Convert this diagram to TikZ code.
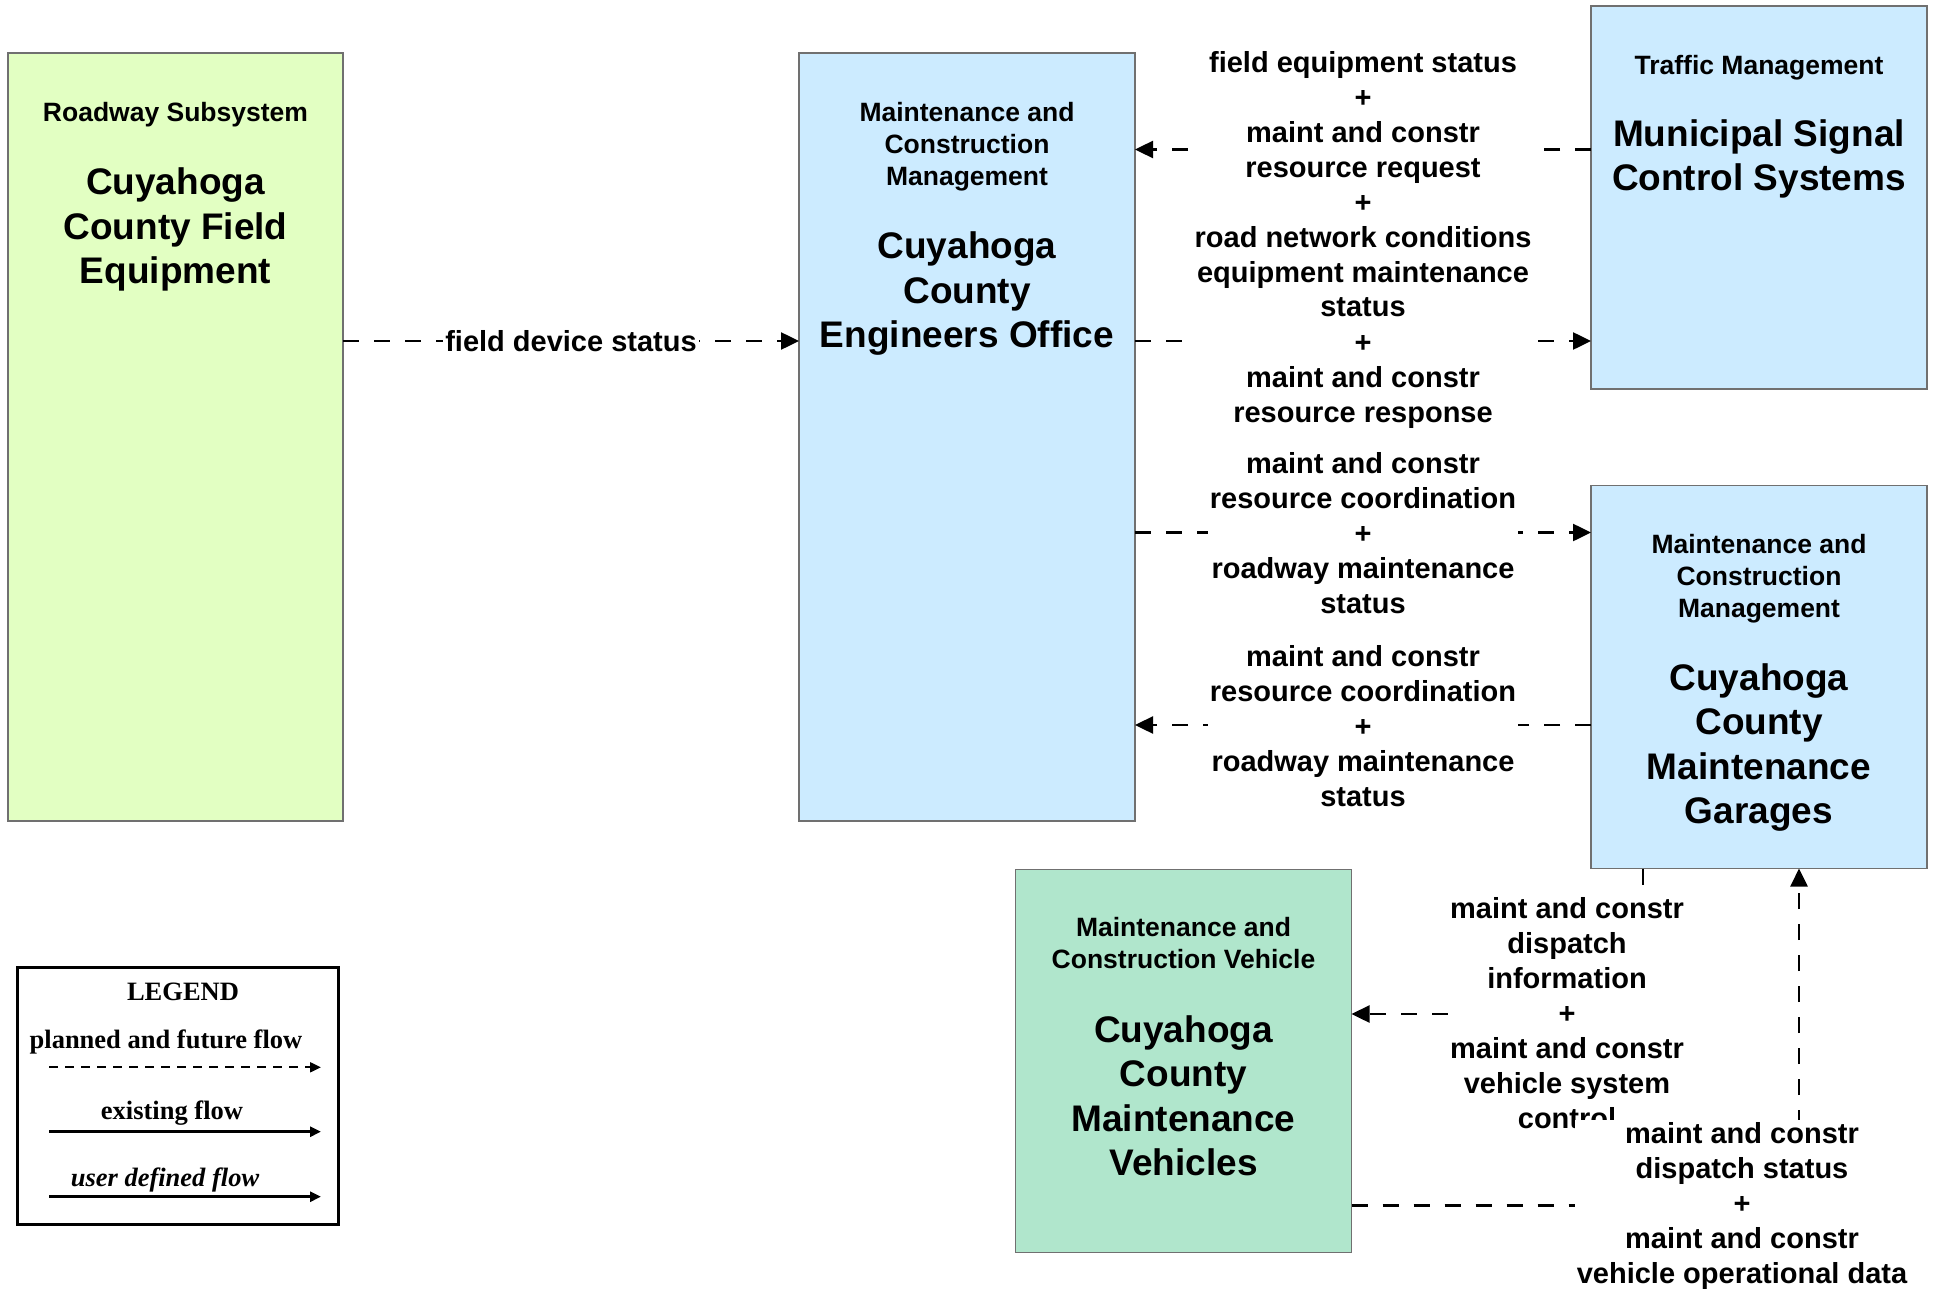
\documentclass[tikz,border=0pt]{standalone}
\usepackage{fontspec}
\setmainfont{Liberation Sans}
\newfontfamily\legfont{Liberation Serif}
\usetikzlibrary{arrows.meta,calc}
\definecolor{roadfill}{RGB}{226,255,194}
\definecolor{bluefill}{RGB}{204,235,255}
\definecolor{mintfill}{RGB}{176,230,204}
\definecolor{edgegray}{RGB}{112,112,112}
\begin{document}
\begin{tikzpicture}[x=1pt,y=-1pt,
  box/.style={draw=edgegray,line width=1.5pt,anchor=north west,inner sep=0pt,outer sep=0pt},
  hdr/.style={font=\bfseries\fontsize{26.5}{32}\selectfont,align=center,inner sep=0pt},
  ttl/.style={font=\bfseries\fontsize{37}{44.5}\selectfont,align=center,inner sep=0pt},
  lbl/.style={font=\bfseries\fontsize{29}{35}\selectfont,align=center,fill=white,inner sep=2pt},
  flow/.style={line width=2.5pt,dash pattern=on 16pt off 15pt,-{Triangle[length=18pt,width=17pt]}},
  legtxt/.style={font=\legfont\bfseries\fontsize{26.5}{31}\selectfont,inner sep=0pt},
  legplanned/.style={line width=2pt,dash pattern=on 9pt off 7pt,-{Triangle[length=11pt,width=10pt]}},
  legsolid/.style={line width=3pt,-{Triangle[length=11pt,width=10pt]}}]
\useasboundingbox (0,0) rectangle (1937,1289);

% boxes
\node[box,fill=roadfill,minimum width=335pt,minimum height=768pt] (road) at (8,53) {};
\node[box,fill=bluefill,minimum width=336pt,minimum height=768pt] (eng) at (799,53) {};
\node[box,fill=bluefill,minimum width=336pt,minimum height=383pt] (mun) at (1591,6) {};
\node[box,fill=bluefill,minimum width=336pt,minimum height=383pt] (gar) at (1591,485.5) {};
\node[box,fill=mintfill,minimum width=336pt,minimum height=383pt] (veh) at (1015.5,869.7) {};

% box texts
\node[hdr] (roadh) at (175.5,114.5) {Roadway Subsystem};
\node[ttl] (roadt) at (175.5,229.5) {Cuyahoga\\County Field\\Equipment};
\node[hdr] (engh) at (967,146.5) {Maintenance and\\Construction\\Management};
\node[ttl] (engt) at (967,294) {Cuyahoga\\County\\Engineers Office};
\node[hdr] (munh) at (1759,67.5) {Traffic Management};
\node[ttl] (munt) at (1759,159) {Municipal Signal\\Control Systems};
\node[hdr] (garh) at (1759,578.5) {Maintenance and\\Construction\\Management};
\node[ttl] (gart) at (1759,747.5) {Cuyahoga\\County\\Maintenance\\Garages};
\node[hdr] (vehh) at (1183.5,942.6) {Maintenance and\\Construction Vehicle};
\node[ttl] (veht) at (1183.5,1095.8) {Cuyahoga\\County\\Maintenance\\Vehicles};

% helper coordinates
\coordinate (yA) at (0,149.5);
\coordinate (yB) at (0,341);
\coordinate (yC) at (0,532.5);
\coordinate (yD) at (0,725);
\coordinate (yE) at (0,1014);
\coordinate (yF) at (0,1205.5);
\coordinate (xE) at (1643,0);
\coordinate (xF) at (1799,0);

% connectors
\draw[flow] (road.east |- yB) -- node[lbl] (l0) {field device status} (eng.west |- yB);
\draw[flow] (mun.west |- yA) -- node[lbl] (lA) {field equipment status\\+\\maint and constr\\resource request\\+\\road network conditions} (eng.east |- yA);
\draw[flow] (eng.east |- yB) -- node[lbl,yshift=-3.5pt] (lB) {equipment maintenance\\status\\+\\maint and constr\\resource response} (mun.west |- yB);
\draw[flow] (eng.east |- yC) -- node[lbl,yshift=-1pt] (lC) {maint and constr\\resource coordination\\+\\roadway maintenance\\status} (gar.west |- yC);
\draw[flow] (gar.west |- yD) -- node[lbl,yshift=-1pt] (lD) {maint and constr\\resource coordination\\+\\roadway maintenance\\status} (eng.east |- yD);
\draw[flow] (gar.south -| xE) -- (xE |- yE) -- (veh.east |- yE);
\draw[flow] (veh.east |- yF) -- (xF |- yF) -- (gar.south -| xF);
\node[lbl] (lE) at (1567,1013) {maint and constr\\dispatch\\information\\+\\maint and constr\\vehicle system\\control};
\node[lbl] (lF) at (1742,1206) {maint and constr\\dispatch status\\+\\maint and constr\\vehicle operational data};

% legend
\node[draw=black,line width=2.8pt,anchor=north west,minimum width=321pt,minimum height=257pt,inner sep=0pt] (leg) at (16,966) {};
\node[legtxt] (legt) at (183,991.7) {LEGEND};
\node[legtxt] (leg1) at (166,1041.7) {planned and future flow};
\node[legtxt] (leg2) at (172,1113) {existing flow};
\node[legtxt,font=\legfont\bfseries\itshape\fontsize{26.5}{31}\selectfont] (leg3) at (165,1180) {user defined flow};
\coordinate (a1s) at (49,1067.3);
\coordinate (a1e) at (321,1067.3);
\coordinate (a2s) at (49,1131.7);
\coordinate (a2e) at (321,1131.7);
\coordinate (a3s) at (49,1196.7);
\coordinate (a3e) at (321,1196.7);
\draw[legplanned] (a1s) -- (a1e);
\draw[legsolid] (a2s) -- (a2e);
\draw[legsolid] (a3s) -- (a3e);
\end{tikzpicture}
\end{document}
